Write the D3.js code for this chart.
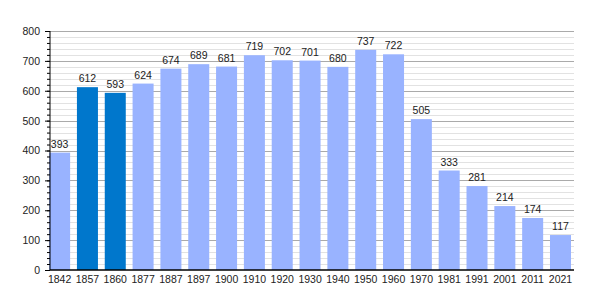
<!DOCTYPE html>
<html>
<head>
<meta charset="utf-8">
<script src="https://cdn.jsdelivr.net/npm/d3@7"></script>
<style>
  body { margin: 0; background: #fff; }
  svg { display: block; font-family: "Liberation Sans", Arial, sans-serif; }
</style>
</head>
<body>
<div id="chart"></div>
<script>
// census years and population
var years = ["1842", "1857", "1860", "1877", "1887", "1897", "1900", "1910", "1920", "1930",
             "1940", "1950", "1960", "1970", "1981", "1991", "2001", "2011", "2021"];
var population = [393, 612, 593, 624, 674, 689, 681, 719, 702, 701,
                  680, 737, 722, 505, 333, 281, 214, 174, 117];
// years highlighted in darker blue
var highlighted = ["1857", "1860"];
var yTicks = [0, 100, 200, 300, 400, 500, 600, 700, 800];

var width = 600, height = 300;
// plot area edges (note: "top" is a reserved window global, so use other names)
var plotLeft = 50, plotRight = 574, plotTop = 31, plotBottom = 270;
var fontSize = 10.5;

var svg = d3.select("#chart").append("svg")
  .attr("width", width)
  .attr("height", height);

var x = d3.scaleBand()
  .domain(years)
  .range([45.7, 574.4])
  .paddingInner(0.245)
  .paddingOuter(0.1225);

var y = d3.scaleLinear()
  .domain([0, 800])
  .range([plotBottom, plotTop]);

// minor gridlines every 20
var minor = d3.range(20, 800, 20).filter(function(d) { return d % 100 !== 0; });
svg.append("g")
  .selectAll("line")
  .data(minor)
  .enter().append("line")
  .attr("x1", plotLeft).attr("x2", plotRight)
  .attr("y1", function(d) { return Math.round(y(d)) + 0.5; })
  .attr("y2", function(d) { return Math.round(y(d)) + 0.5; })
  .attr("stroke", "#e2e2e2")
  .attr("stroke-width", 1);

// major gridlines every 100
svg.append("g")
  .selectAll("line")
  .data(yTicks.slice(1))
  .enter().append("line")
  .attr("x1", plotLeft).attr("x2", plotRight)
  .attr("y1", function(d) { return Math.round(y(d)) + 0.5; })
  .attr("y2", function(d) { return Math.round(y(d)) + 0.5; })
  .attr("stroke", "#aaaaaa")
  .attr("stroke-width", 1);

// bars
svg.append("g")
  .selectAll("rect")
  .data(years)
  .enter().append("rect")
  .attr("x", function(d) { return x(d); })
  .attr("width", x.bandwidth())
  .attr("y", function(d, i) { return y(population[i]); })
  .attr("height", function(d, i) { return plotBottom - y(population[i]); })
  .attr("fill", function(d) { return highlighted.indexOf(d) >= 0 ? "#0077cc" : "#99b3ff"; });

// value labels
svg.append("g")
  .selectAll("text")
  .data(years)
  .enter().append("text")
  .attr("x", function(d) { return x(d) + x.bandwidth() / 2; })
  .attr("y", function(d, i) { return y(population[i]) - 5; })
  .attr("text-anchor", "middle")
  .attr("font-size", fontSize)
  .attr("fill", "#222")
  .text(function(d, i) { return population[i]; });

// y axis with minor ticks
var yMinor = d3.axisLeft(y).tickValues(d3.range(0, 801, 20)).tickSize(3).tickFormat("");
svg.append("g")
  .attr("transform", "translate(" + plotLeft + ",0)")
  .call(yMinor)
  .call(function(g) { g.select(".domain").remove(); });

var yAxis = d3.axisLeft(y).tickValues(yTicks).tickSize(5).tickPadding(5);
svg.append("g")
  .attr("transform", "translate(" + plotLeft + ",0)")
  .call(yAxis)
  .call(function(g) {
    g.select(".domain").attr("d", "M0," + plotTop + "V" + plotBottom);
    g.selectAll("text").attr("font-size", fontSize).attr("font-family", "Liberation Sans, Arial, sans-serif").attr("fill", "#222");
  });

// x axis
var xAxis = d3.axisBottom(x).tickSize(0).tickPadding(6);
svg.append("g")
  .attr("transform", "translate(0," + plotBottom + ")")
  .call(xAxis)
  .call(function(g) {
    g.select(".domain").attr("d", "M" + plotLeft + ",0H" + plotRight).attr("stroke-width", 1.5);
    g.selectAll("text").attr("font-size", fontSize).attr("font-family", "Liberation Sans, Arial, sans-serif").attr("fill", "#222");
  });
</script>
</body>
</html>
